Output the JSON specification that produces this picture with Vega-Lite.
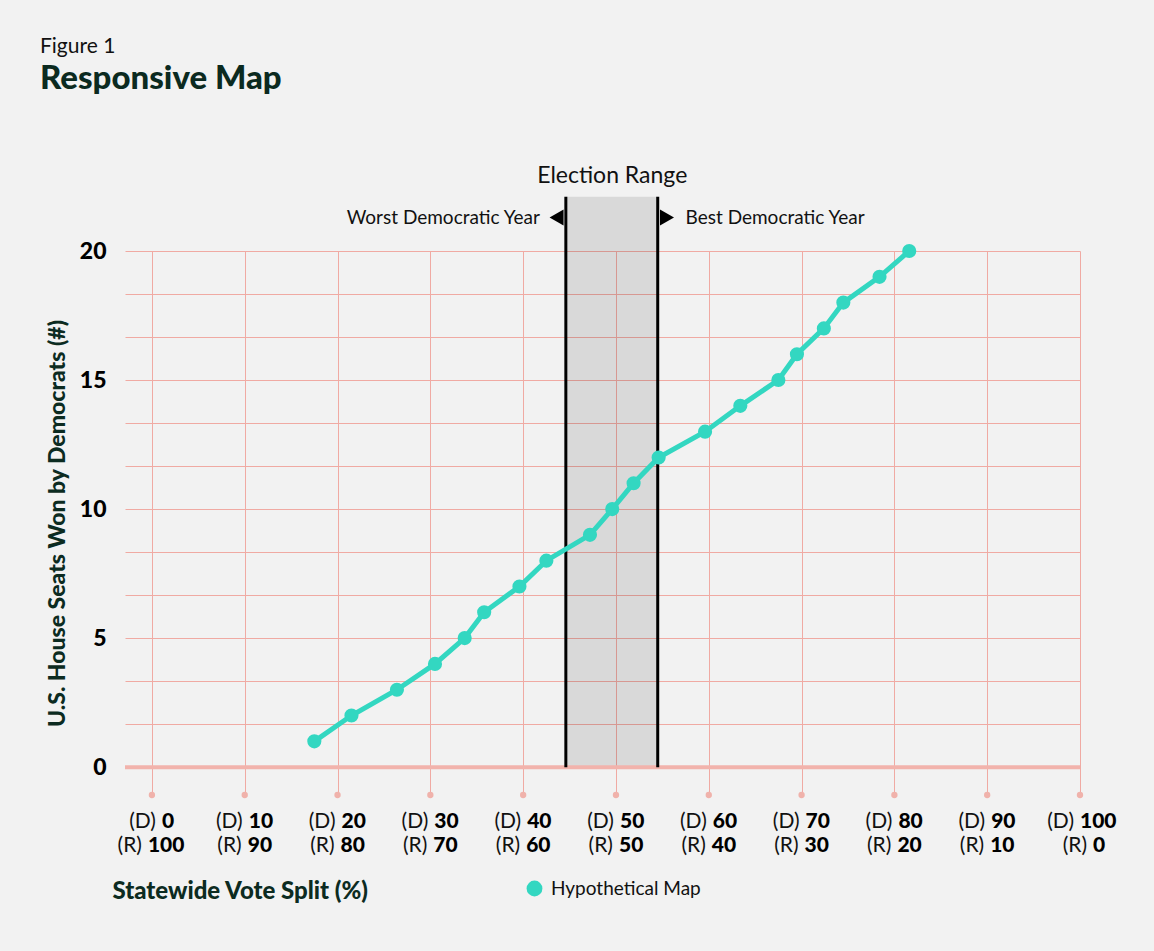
{
  "$schema": "https://vega.github.io/schema/vega-lite/v6.json",
  "width": 955,
  "height": 544,
  "autosize": {"type": "none"},
  "padding": {"left": 125, "top": 251, "right": 74, "bottom": 156},
  "background": "#f2f2f2",
  "config": {
    "view": {"stroke": null},
    "font": "Lato",
    "text": {"font": "Lato"}
  },
  "title": {
    "text": "Figure 1",
    "subtitle": "Responsive Map",
    "anchor": "start",
    "frame": "group",
    "dx": -85,
    "dy": -65,
    "font": "Lato",
    "fontSize": 21,
    "fontWeight": "normal",
    "color": "#111111",
    "subtitleFont": "Lato",
    "subtitleFontSize": 33,
    "subtitleFontWeight": 900,
    "subtitleColor": "#0b2a20",
    "subtitlePadding": 6
  },
  "datasets": {
    "pts": [
      {"x": 17.5, "y": 1, "series": "Hypothetical Map"},
      {"x": 21.5, "y": 2, "series": "Hypothetical Map"},
      {"x": 26.4, "y": 3, "series": "Hypothetical Map"},
      {"x": 30.5, "y": 4, "series": "Hypothetical Map"},
      {"x": 33.7, "y": 5, "series": "Hypothetical Map"},
      {"x": 35.8, "y": 6, "series": "Hypothetical Map"},
      {"x": 39.6, "y": 7, "series": "Hypothetical Map"},
      {"x": 42.5, "y": 8, "series": "Hypothetical Map"},
      {"x": 47.2, "y": 9, "series": "Hypothetical Map"},
      {"x": 49.6, "y": 10, "series": "Hypothetical Map"},
      {"x": 51.9, "y": 11, "series": "Hypothetical Map"},
      {"x": 54.6, "y": 12, "series": "Hypothetical Map"},
      {"x": 59.6, "y": 13, "series": "Hypothetical Map"},
      {"x": 63.4, "y": 14, "series": "Hypothetical Map"},
      {"x": 67.5, "y": 15, "series": "Hypothetical Map"},
      {"x": 69.5, "y": 16, "series": "Hypothetical Map"},
      {"x": 72.4, "y": 17, "series": "Hypothetical Map"},
      {"x": 74.5, "y": 18, "series": "Hypothetical Map"},
      {"x": 78.4, "y": 19, "series": "Hypothetical Map"},
      {"x": 81.6, "y": 20, "series": "Hypothetical Map"}
    ],
    "ticks": [
      {"d": 0, "r": 100},
      {"d": 10, "r": 90},
      {"d": 20, "r": 80},
      {"d": 30, "r": 70},
      {"d": 40, "r": 60},
      {"d": 50, "r": 50},
      {"d": 60, "r": 40},
      {"d": 70, "r": 30},
      {"d": 80, "r": 20},
      {"d": 90, "r": 10},
      {"d": 100, "r": 0}
    ],
    "band": [{"lo": 44.6, "hi": 54.5}],
    "edges": [{"x": 44.6}, {"x": 54.5}]
  },
  "layer": [
    {
      "data": {"name": "band"},
      "mark": {"type": "rect", "fill": "#000000", "fillOpacity": 0.1},
      "encoding": {
        "x": {
          "field": "lo",
          "type": "quantitative",
          "scale": {"domain": [-2.9, 100], "nice": false, "zero": false},
          "axis": {
            "values": [0, 10, 20, 30, 40, 50, 60, 70, 80, 90, 100],
            "labels": false,
            "ticks": false,
            "domain": false,
            "grid": true,
            "gridColor": "#f0aaa3",
            "gridWidth": 1,
            "title": "Statewide Vote Split (%)",
            "titleX": -13,
            "titleY": 103,
            "titleAlign": "left",
            "titleAnchor": "start",
            "titleBaseline": "alphabetic",
            "titleFont": "Lato",
            "titleFontSize": 24,
            "titleFontWeight": 900,
            "titleColor": "#0c2b21"
          }
        },
        "x2": {"field": "hi"},
        "y": {
          "datum": 0,
          "type": "quantitative",
          "scale": {"domain": [-1.08, 20], "nice": false, "zero": false},
          "axis": {
            "values": [0, 1.667, 3.333, 5, 6.667, 8.333, 10, 11.667, 13.333, 15, 16.667, 18.333, 20],
            "grid": true,
            "gridColor": "#f0aaa3",
            "gridWidth": 1,
            "ticks": false,
            "domain": false,
            "labelExpr": "datum.value % 5 == 0 ? datum.label : ''",
            "labelFont": "Lato",
            "labelFontSize": 23,
            "labelFontWeight": 900,
            "labelColor": "#000000",
            "labelPadding": 19,
            "title": "U.S. House Seats Won by Democrats (#)",
            "titleFont": "Lato",
            "titleFontSize": 23,
            "titleFontWeight": 900,
            "titleColor": "#0c2b21",
            "titlePadding": 10
          }
        },
        "y2": {"datum": 22.1}
      }
    },
    {
      "data": {"values": [{}]},
      "mark": {"type": "rule", "color": "#f2b3ac", "strokeWidth": 4},
      "encoding": {
        "x": {"datum": -2.9, "type": "quantitative"},
        "x2": {"datum": 100},
        "y": {"datum": 0, "type": "quantitative"}
      }
    },
    {
      "data": {"name": "ticks"},
      "mark": {"type": "point", "filled": true, "color": "#f0b2ab", "opacity": 1, "size": 40},
      "encoding": {
        "x": {"field": "d", "type": "quantitative"},
        "y": {"datum": -1.08, "type": "quantitative"}
      }
    },
    {
      "data": {"name": "edges"},
      "mark": {"type": "rule", "color": "#000000", "strokeWidth": 3},
      "encoding": {
        "x": {"field": "x", "type": "quantitative"},
        "y": {"datum": 0, "type": "quantitative"},
        "y2": {"datum": 22.1}
      }
    },
    {
      "data": {"name": "pts"},
      "mark": {"type": "line", "color": "#33d7c1", "strokeWidth": 5},
      "encoding": {
        "x": {"field": "x", "type": "quantitative"},
        "y": {"field": "y", "type": "quantitative"}
      }
    },
    {
      "data": {"name": "pts"},
      "mark": {"type": "point", "filled": true, "opacity": 1, "size": 200},
      "encoding": {
        "x": {"field": "x", "type": "quantitative"},
        "y": {"field": "y", "type": "quantitative"},
        "color": {
          "field": "series",
          "type": "nominal",
          "scale": {"range": ["#33d7c1"]},
          "legend": {
            "orient": "none",
            "legendX": 400,
            "legendY": 628,
            "title": null,
            "padding": 0,
            "symbolType": "circle",
            "symbolSize": 250,
            "labelFont": "Lato",
            "labelFontSize": 19,
            "labelColor": "#111111",
            "labelOffset": 7
          }
        }
      }
    },
    {
      "data": {"values": [{}]},
      "mark": {"type": "text", "fontSize": 23, "align": "center", "baseline": "alphabetic", "color": "#111111"},
      "encoding": {
        "x": {"datum": 49.6, "type": "quantitative"},
        "y": {"datum": 22.64, "type": "quantitative"},
        "text": {"value": "Election Range"}
      }
    },
    {
      "data": {"values": [{}]},
      "mark": {"type": "text", "fontSize": 19, "align": "right", "baseline": "alphabetic", "color": "#111111"},
      "encoding": {
        "x": {"datum": 41.8, "type": "quantitative"},
        "y": {"datum": 21.05, "type": "quantitative"},
        "text": {"value": "Worst Democratic Year"}
      }
    },
    {
      "data": {"values": [{}]},
      "mark": {"type": "text", "fontSize": 19, "align": "left", "baseline": "alphabetic", "color": "#111111"},
      "encoding": {
        "x": {"datum": 57.5, "type": "quantitative"},
        "y": {"datum": 21.05, "type": "quantitative"},
        "text": {"value": "Best Democratic Year"}
      }
    },
    {
      "data": {"values": [{}]},
      "mark": {"type": "point", "shape": "triangle-left", "filled": true, "color": "#000000", "opacity": 1, "size": 260},
      "encoding": {
        "x": {"datum": 43.6, "type": "quantitative"},
        "y": {"datum": 21.3, "type": "quantitative"}
      }
    },
    {
      "data": {"values": [{}]},
      "mark": {"type": "point", "shape": "triangle-right", "filled": true, "color": "#000000", "opacity": 1, "size": 260},
      "encoding": {
        "x": {"datum": 55.5, "type": "quantitative"},
        "y": {"datum": 21.3, "type": "quantitative"}
      }
    },
    {
      "data": {"name": "ticks"},
      "transform": [{"filter": "datum.d == 0"}],
      "layer": [
        {
          "mark": {"type": "text", "fontSize": 21, "align": "right", "baseline": "alphabetic", "dx": 4, "color": "#111111"},
          "encoding": {"x": {"field": "d", "type": "quantitative"}, "y": {"datum": -2.36, "type": "quantitative"}, "text": {"value": "(D)"}}
        },
        {
          "mark": {"type": "text", "fontSize": 21, "fontWeight": 900, "align": "left", "baseline": "alphabetic", "dx": 10, "color": "#000000"},
          "encoding": {"x": {"field": "d", "type": "quantitative"}, "y": {"datum": -2.36, "type": "quantitative"}, "text": {"field": "d"}}
        },
        {
          "mark": {"type": "text", "fontSize": 21, "align": "right", "baseline": "alphabetic", "dx": -10, "color": "#111111"},
          "encoding": {"x": {"field": "d", "type": "quantitative"}, "y": {"datum": -3.3, "type": "quantitative"}, "text": {"value": "(R)"}}
        },
        {
          "mark": {"type": "text", "fontSize": 21, "fontWeight": 900, "align": "left", "baseline": "alphabetic", "dx": -4, "color": "#000000"},
          "encoding": {"x": {"field": "d", "type": "quantitative"}, "y": {"datum": -3.3, "type": "quantitative"}, "text": {"field": "r"}}
        }
      ]
    },
    {
      "data": {"name": "ticks"},
      "transform": [{"filter": "datum.d > 0 && datum.d < 100"}],
      "layer": [
        {
          "mark": {"type": "text", "fontSize": 21, "align": "right", "baseline": "alphabetic", "dx": -2, "color": "#111111"},
          "encoding": {"x": {"field": "d", "type": "quantitative"}, "y": {"datum": -2.36, "type": "quantitative"}, "text": {"value": "(D)"}}
        },
        {
          "mark": {"type": "text", "fontSize": 21, "fontWeight": 900, "align": "left", "baseline": "alphabetic", "dx": 4, "color": "#000000"},
          "encoding": {"x": {"field": "d", "type": "quantitative"}, "y": {"datum": -2.36, "type": "quantitative"}, "text": {"field": "d"}}
        },
        {
          "mark": {"type": "text", "fontSize": 21, "align": "right", "baseline": "alphabetic", "dx": -3, "color": "#111111"},
          "encoding": {"x": {"field": "d", "type": "quantitative"}, "y": {"datum": -3.3, "type": "quantitative"}, "text": {"value": "(R)"}}
        },
        {
          "mark": {"type": "text", "fontSize": 21, "fontWeight": 900, "align": "left", "baseline": "alphabetic", "dx": 3, "color": "#000000"},
          "encoding": {"x": {"field": "d", "type": "quantitative"}, "y": {"datum": -3.3, "type": "quantitative"}, "text": {"field": "r"}}
        }
      ]
    },
    {
      "data": {"name": "ticks"},
      "transform": [{"filter": "datum.d == 100"}],
      "layer": [
        {
          "mark": {"type": "text", "fontSize": 21, "align": "right", "baseline": "alphabetic", "dx": -6, "color": "#111111"},
          "encoding": {"x": {"field": "d", "type": "quantitative"}, "y": {"datum": -2.36, "type": "quantitative"}, "text": {"value": "(D)"}}
        },
        {
          "mark": {"type": "text", "fontSize": 21, "fontWeight": 900, "align": "left", "baseline": "alphabetic", "dx": 0, "color": "#000000"},
          "encoding": {"x": {"field": "d", "type": "quantitative"}, "y": {"datum": -2.36, "type": "quantitative"}, "text": {"field": "d"}}
        },
        {
          "mark": {"type": "text", "fontSize": 21, "align": "right", "baseline": "alphabetic", "dx": 7, "color": "#111111"},
          "encoding": {"x": {"field": "d", "type": "quantitative"}, "y": {"datum": -3.3, "type": "quantitative"}, "text": {"value": "(R)"}}
        },
        {
          "mark": {"type": "text", "fontSize": 21, "fontWeight": 900, "align": "left", "baseline": "alphabetic", "dx": 13, "color": "#000000"},
          "encoding": {"x": {"field": "d", "type": "quantitative"}, "y": {"datum": -3.3, "type": "quantitative"}, "text": {"field": "r"}}
        }
      ]
    }
  ]
}
